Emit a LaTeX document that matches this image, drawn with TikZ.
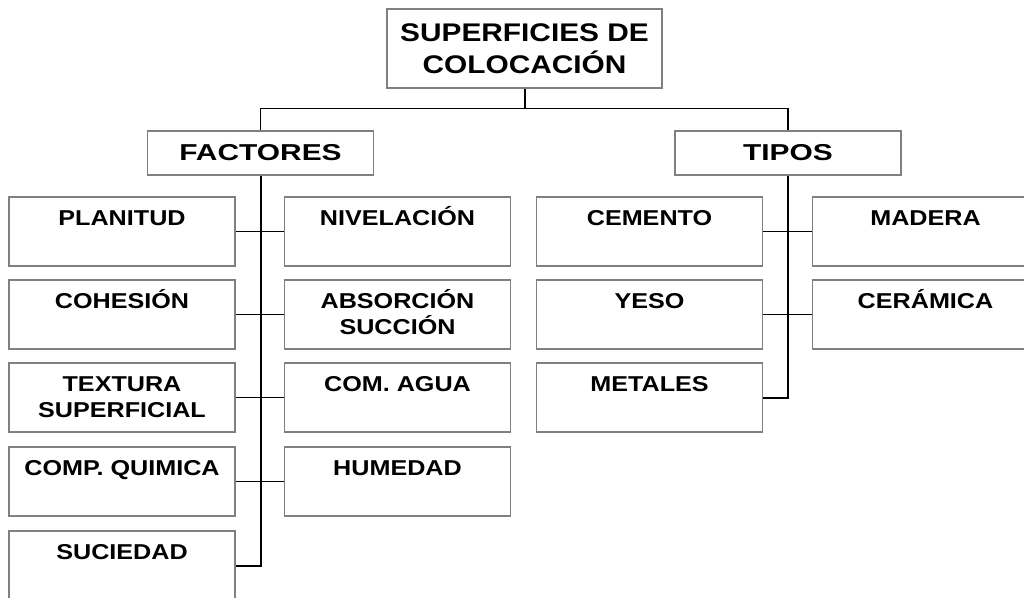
\documentclass[tikz,border=0pt]{standalone}
\usepackage{fontspec}
\setmainfont{Liberation Sans}[FakeStretch=1.17]
\newfontfamily\hdfont{Liberation Sans}[FakeStretch=1.3]
\newcommand{\sr}{\rule[-6pt]{0pt}{26pt}}

\begin{document}
\begin{tikzpicture}[x=1pt,y=-1pt,
    leaf/.style={draw=gray,line width=1.4pt,inner sep=0pt,align=center,minimum width=226pt,minimum height=69pt,font=\bfseries\fontsize{21.5}{26}\selectfont},
    head/.style={leaf,minimum height=44pt,font=\hdfont\bfseries\fontsize{23}{28}\selectfont},
    root/.style={leaf,minimum width=275pt,minimum height=79pt,font=\bfseries\fontsize{25.5}{32.5}\selectfont},
    stem/.style={line width=2pt},
    twig/.style={line width=1.5pt}]
    \useasboundingbox (0,0) rectangle (1024,597);

    \node[root] (sup) at (524.5,48.5) {SUPERFICIES DE\\COLOCACIÓN};
    \node[head] (fac) at (260.5,153) {FACTORES};
    \node[head] (tip) at (788,153) {TIPOS};

    % factores
    \node[leaf] (plan) at (122,231.5) {\sr PLANITUD\\\sr};
    \node[leaf] (coh) at (122,314.5) {\sr COHESIÓN\\\sr};
    \node[leaf] (tex) at (122,397.5) {\sr TEXTURA\\\sr SUPERFICIAL};
    \node[leaf] (comp) at (122,481.5) {\sr COMP. QUIMICA\\\sr};
    \node[leaf] (suc) at (122,565.5) {\sr SUCIEDAD\\\sr};
    \node[leaf] (niv) at (397.5,231.5) {\sr NIVELACIÓN\\\sr};
    \node[leaf] (abs) at (397.5,314.5) {\sr ABSORCIÓN\\\sr SUCCIÓN};
    \node[leaf] (agua) at (397.5,397.5) {\sr COM. AGUA\\\sr};
    \node[leaf] (hum) at (397.5,481.5) {\sr HUMEDAD\\\sr};

    % tipos
    \node[leaf] (cem) at (649.5,231.5) {\sr CEMENTO\\\sr};
    \node[leaf] (yeso) at (649.5,314.5) {\sr YESO\\\sr};
    \node[leaf] (met) at (649.5,397.5) {\sr METALES\\\sr};
    \node[leaf] (mad) at (925.5,231.5) {\sr MADERA\\\sr};
    \node[leaf] (cer) at (925.5,314.5) {\sr CERÁMICA\\\sr};

    \draw[stem] (sup.south) -- ++(0,20) coordinate (bus);
    \draw[twig] (fac.north) |- (bus) -| (tip.north);

    \draw[stem] (fac.south) |- (suc.east);
    \draw[twig] (plan) -- (niv);
    \draw[twig] (coh) -- (abs);
    \draw[twig] (tex) -- (agua);
    \draw[twig] (comp) -- (hum);

    \draw[stem] (tip.south) |- (met.east);
    \draw[twig] (cem) -- (mad);
    \draw[twig] (yeso) -- (cer);
\end{tikzpicture}
\end{document}
